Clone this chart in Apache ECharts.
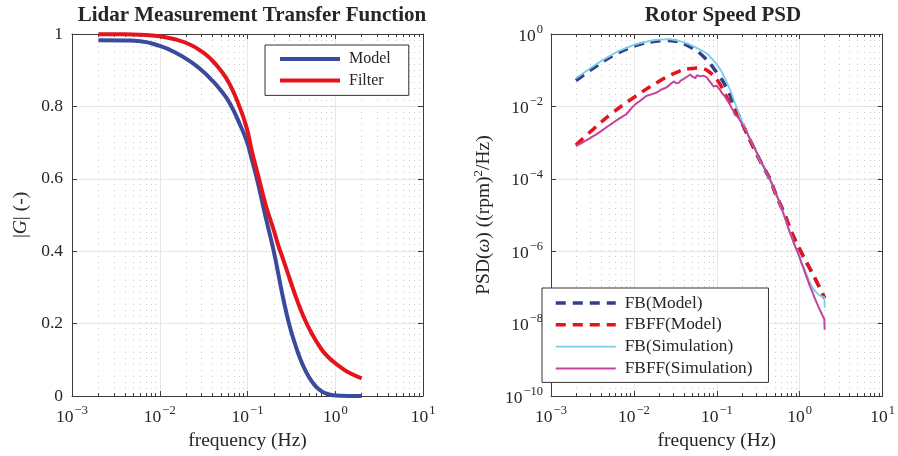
<!DOCTYPE html>
<html>
<head>
<meta charset="utf-8">
<script src="https://cdn.jsdelivr.net/npm/echarts@6/dist/echarts.min.js"></script>
<style>
  html, body { margin: 0; padding: 0; background: #ffffff; }
  #chart { width: 898px; height: 456px; }
</style>
</head>
<body>
<div id="chart"></div>
<script>
// ---------- Lidar measurement transfer function (|G| vs frequency) ----------
const lidarFreq = [0.002, 0.004, 0.006, 0.01, 0.015, 0.022, 0.03, 0.037, 0.049, 0.063, 0.082, 0.098,
  0.1125, 0.13, 0.1625, 0.197, 0.225, 0.256, 0.30, 0.347, 0.40, 0.471, 0.55, 0.64, 0.75, 0.94, 1.2, 1.5, 2.0];
const lidarModel = [0.983, 0.982, 0.980, 0.967, 0.949, 0.925, 0.900, 0.879, 0.846, 0.808, 0.750, 0.704,
  0.652, 0.593, 0.490, 0.405, 0.336, 0.268, 0.196, 0.145, 0.102, 0.064, 0.038, 0.020, 0.009, 0.002, 0.0005, 0.0002, 0.0001];
const lidarFilter = [0.999, 0.999, 0.998, 0.994, 0.985, 0.971, 0.952, 0.934, 0.901, 0.860, 0.796, 0.740,
  0.675, 0.616, 0.525, 0.462, 0.415, 0.376, 0.326, 0.281, 0.241, 0.201, 0.169, 0.143, 0.119, 0.096, 0.0765, 0.062, 0.049];

// ---------- Rotor speed PSD (values given as log10 of (rpm)^2/Hz) ----------
const fbModelFreq = [0.002, 0.0035, 0.0064, 0.012, 0.018, 0.024, 0.032, 0.046, 0.069, 0.104, 0.13, 0.155, 0.18, 0.2,
  0.25, 0.3, 0.36, 0.435, 0.52, 0.65, 0.81, 1.08, 1.49, 2.0];
const fbModelLog = [-1.29, -0.89, -0.53, -0.28, -0.20, -0.18, -0.20, -0.34, -0.62, -1.12, -1.47, -1.85, -2.2, -2.45,
  -2.92, -3.3, -3.65, -4.0, -4.45, -4.95, -5.51, -6.10, -6.70, -7.3];

const fbffModelFreq = [0.002, 0.0032, 0.0055, 0.0105, 0.020, 0.035, 0.050, 0.062, 0.079, 0.104, 0.137, 0.18, 0.2,
  0.25, 0.3, 0.36, 0.435, 0.52, 0.65, 0.81, 1.08, 1.49, 2.0];
const fbffModelLog = [-3.07, -2.64, -2.18, -1.72, -1.31, -1.03, -0.95, -0.94, -1.03, -1.31, -1.81, -2.25, -2.45,
  -2.92, -3.3, -3.65, -4.0, -4.45, -4.95, -5.51, -6.10, -6.70, -7.3];

const fbSimFreq = [0.002, 0.0024, 0.0028, 0.0033, 0.004, 0.005, 0.0064, 0.008, 0.01, 0.012, 0.015, 0.018, 0.021,
  0.024, 0.027, 0.030, 0.034, 0.04, 0.046, 0.053, 0.06, 0.069, 0.079, 0.09, 0.104, 0.115, 0.125, 0.137, 0.15,
  0.165, 0.181, 0.2, 0.22, 0.25, 0.28, 0.32, 0.36, 0.40, 0.435, 0.48, 0.52, 0.57, 0.62, 0.68, 0.74, 0.8, 0.86,
  0.92, 0.98, 1.05, 1.12, 1.2, 1.3, 1.4, 1.5, 1.6, 1.7, 1.8, 1.9, 1.98, 2.0];
const fbSimLog = [-1.22, -1.10, -0.99, -0.88, -0.75, -0.62, -0.48, -0.39, -0.30, -0.25, -0.20, -0.17, -0.155,
  -0.15, -0.14, -0.16, -0.18, -0.23, -0.28, -0.35, -0.41, -0.48, -0.57, -0.72, -0.89, -1.05, -1.22, -1.42, -1.63,
  -1.90, -2.14, -2.40, -2.60, -2.88, -3.12, -3.42, -3.66, -3.85, -4.02, -4.25, -4.45, -4.65, -4.90, -5.15, -5.40, -5.60, -5.80,
  -5.98, -6.12, -6.30, -6.45, -6.62, -6.82, -6.97, -7.07, -7.15, -7.20, -7.24, -7.27, -7.27, -7.56];

const fbffSimFreq = [0.002, 0.0023, 0.0026, 0.0029, 0.0032, 0.0036, 0.0041, 0.0047, 0.00555, 0.0065, 0.0074, 0.008,
  0.0088, 0.0096, 0.01055, 0.0115, 0.0126, 0.0139, 0.015, 0.0165, 0.0183, 0.020, 0.022, 0.0241, 0.026, 0.028,
  0.0303, 0.0325, 0.0347, 0.037, 0.0395, 0.0417, 0.045, 0.0479, 0.051, 0.055, 0.0575, 0.060, 0.063, 0.0659,
  0.069, 0.0725, 0.076, 0.079, 0.083, 0.0868, 0.091, 0.0953, 0.1, 0.104, 0.11, 0.115, 0.12, 0.125, 0.131, 0.137,
  0.143, 0.150, 0.157, 0.165, 0.173, 0.181, 0.19, 0.2, 0.21, 0.22, 0.235, 0.25, 0.265, 0.28, 0.30, 0.32, 0.34,
  0.36, 0.38, 0.40, 0.42, 0.45, 0.48, 0.51, 0.55, 0.59, 0.63, 0.68, 0.72, 0.77, 0.82, 0.87, 0.92, 0.98, 1.04,
  1.1, 1.17, 1.25, 1.33, 1.42, 1.5, 1.6, 1.7, 1.8, 1.9, 1.98, 2.0];
const fbffSimLog = [-3.10, -3.02, -2.95, -2.89, -2.83, -2.76, -2.67, -2.57, -2.46, -2.35, -2.27, -2.23,
  -2.12, -2.02, -1.93, -1.87, -1.80, -1.72, -1.69, -1.66, -1.63, -1.58, -1.52, -1.49, -1.44, -1.37,
  -1.31, -1.36, -1.35, -1.28, -1.25, -1.22, -1.16, -1.12, -1.18, -1.22, -1.14, -1.10, -1.17, -1.22,
  -1.15, -1.12, -1.20, -1.26, -1.31, -1.38, -1.45, -1.49, -1.43, -1.44, -1.55, -1.63, -1.66, -1.72, -1.80, -1.86,
  -1.93, -2.04, -2.10, -2.23, -2.25, -2.30, -2.38, -2.47, -2.56, -2.62, -2.76, -2.90, -3.00, -3.10, -3.25, -3.38, -3.50,
  -3.62, -3.72, -3.84, -3.93, -4.07, -4.22, -4.38, -4.55, -4.72, -4.93, -5.15, -5.33, -5.52, -5.68, -5.84, -5.97, -6.12, -6.30,
  -6.45, -6.62, -6.80, -6.97, -7.12, -7.27, -7.42, -7.56, -7.68, -7.80, -7.87, -8.17];

// ---------- Axis ticks ----------
const freqMajorTicks = [0.001, 0.01, 0.1, 1, 10];
const psdMajorTicks = [1e-10, 1e-8, 1e-6, 1e-4, 1e-2, 1];
const freqMinorTicks = [];
for (let k = -3; k <= 0; k++) {
  for (let m = 2; m <= 9; m++) freqMinorTicks.push(+(m * Math.pow(10, k)).toPrecision(3));
}

const FONT = 'Liberation Serif';
const TEXT = '#262626';
const AXIS = '#3c3c3c';
const GRID_MAJOR = '#e6e6e6';
const GRID_MINOR = '#c8c8c8';
const NAME_SIZE = 19.5;

const pairs = (xs, ys) => xs.map((x, i) => [x, ys[i]]);
const pairsLog = (xs, ys) => xs.map((x, i) => [x, Math.pow(10, ys[i])]);

function powLabel(v) {
  const e = Math.round(Math.log10(v));
  const s = e < 0 ? '\u2212' + (-e) : String(e);
  return '{b|10}{e|' + s + '}';
}
const powRich = {
  b: { fontFamily: FONT, fontSize: 17.5, color: TEXT, lineHeight: 22, verticalAlign: 'bottom' },
  e: { fontFamily: FONT, fontSize: 12.5, color: TEXT, lineHeight: 12, padding: [0, 0, 9, 1], verticalAlign: 'bottom' }
};

function bottomMajorX(grid) {
  return {
    type: 'log', gridIndex: grid, position: 'bottom', min: 0.001, max: 10,
    axisLine: { show: true, lineStyle: { color: AXIS, width: 1 } },
    axisTick: { show: true, inside: true, length: 5, lineStyle: { color: AXIS }, customValues: freqMajorTicks },
    axisLabel: { show: true, margin: 8, formatter: powLabel, rich: powRich, customValues: freqMajorTicks },
    splitLine: { show: true, lineStyle: { color: GRID_MAJOR, width: 1 } },
    name: 'frequency (Hz)', nameLocation: 'middle', nameGap: 34,
    nameTextStyle: { fontFamily: FONT, fontSize: NAME_SIZE, color: TEXT }
  };
}
function minorX(grid, pos, withGrid) {
  return {
    type: 'log', gridIndex: grid, position: pos, min: 0.001, max: 10,
    axisLine: { show: false },
    axisTick: { show: true, inside: true, length: 3, lineStyle: { color: AXIS }, customValues: freqMinorTicks },
    axisLabel: { show: false },
    splitLine: { show: withGrid, lineStyle: { color: GRID_MINOR, width: 1, type: [1, 5] } }
  };
}
function topMajorX(grid) {
  return {
    type: 'log', gridIndex: grid, position: 'top', min: 0.001, max: 10,
    axisLine: { show: true, lineStyle: { color: AXIS, width: 1 } },
    axisTick: { show: true, inside: true, length: 5, lineStyle: { color: AXIS }, customValues: freqMajorTicks },
    axisLabel: { show: false },
    splitLine: { show: false }
  };
}
function legendBox(names, left, top, padding, gap, size) {
  return {
    data: names, orient: 'vertical', left: left, top: top,
    padding: padding, itemWidth: 60, itemHeight: 14, itemGap: gap,
    backgroundColor: '#ffffff', borderColor: '#333333', borderWidth: 1,
    lineStyle: { width: 'inherit', type: 'inherit' },
    itemStyle: { opacity: 0 },
    textStyle: { fontFamily: FONT, fontSize: size, color: TEXT, padding: [0, 0, 0, 4] }
  };
}

const option = {
  animation: false,
  backgroundColor: '#ffffff',
  textStyle: { fontFamily: FONT, color: TEXT },
  title: [
    { text: 'Lidar Measurement Transfer Function', left: 247, top: 0, textAlign: 'center',
      textStyle: { fontFamily: FONT, fontSize: 21, fontWeight: 'bold', color: TEXT } },
    { text: 'Rotor Speed PSD', left: 718, top: 0, textAlign: 'center',
      textStyle: { fontFamily: FONT, fontSize: 21, fontWeight: 'bold', color: TEXT } }
  ],
  grid: [
    { left: 72, right: 475, top: 34, bottom: 60 },
    { left: 551, right: 12, top: 34, bottom: 60 }
  ],
  xAxis: [
    bottomMajorX(0), minorX(0, 'bottom', true), topMajorX(0), minorX(0, 'top', false),
    bottomMajorX(1), minorX(1, 'bottom', true), topMajorX(1), minorX(1, 'top', false)
  ],
  yAxis: [
    {
      type: 'value', gridIndex: 0, position: 'left', min: 0, max: 1, interval: 0.2,
      axisLine: { show: true, lineStyle: { color: AXIS, width: 1 } },
      axisTick: { show: true, inside: true, length: 5, lineStyle: { color: AXIS } },
      axisLabel: { fontFamily: FONT, fontSize: 17.5, color: TEXT, margin: 9 },
      splitLine: { show: true, lineStyle: { color: GRID_MAJOR, width: 1 } },
      name: '|{i|G}| (-)', nameLocation: 'middle', nameRotate: 90, nameGap: 41,
      nameTextStyle: { fontFamily: FONT, fontSize: NAME_SIZE, color: TEXT,
        rich: { i: { fontFamily: FONT, fontSize: NAME_SIZE, fontStyle: 'italic', color: TEXT } } }
    },
    {
      type: 'value', gridIndex: 0, position: 'right', min: 0, max: 1, interval: 0.2,
      axisLine: { show: true, lineStyle: { color: AXIS, width: 1 } },
      axisTick: { show: true, inside: true, length: 5, lineStyle: { color: AXIS } },
      axisLabel: { show: false }, splitLine: { show: false }
    },
    {
      type: 'log', gridIndex: 1, position: 'left', min: 1e-10, max: 1, splitNumber: 10,
      axisLine: { show: true, lineStyle: { color: AXIS, width: 1 } },
      axisTick: { show: true, inside: true, length: 5, lineStyle: { color: AXIS }, customValues: psdMajorTicks },
      axisLabel: { margin: 8, formatter: powLabel, rich: powRich, customValues: psdMajorTicks },
      splitLine: { show: true, lineStyle: { color: GRID_MAJOR, width: 1 } },
      name: 'PSD({i|\u03c9}) ((rpm){s|2}/Hz)', nameLocation: 'middle', nameRotate: 90, nameGap: 56,
      nameTextStyle: { fontFamily: FONT, fontSize: NAME_SIZE, color: TEXT,
        rich: {
          i: { fontFamily: FONT, fontSize: NAME_SIZE, fontStyle: 'italic', color: TEXT },
          s: { fontFamily: FONT, fontSize: 13, color: TEXT, padding: [0, 0, 10, 0], verticalAlign: 'bottom' }
        } }
    },
    {
      type: 'log', gridIndex: 1, position: 'right', min: 1e-10, max: 1, splitNumber: 10,
      axisLine: { show: true, lineStyle: { color: AXIS, width: 1 } },
      axisTick: { show: true, inside: true, length: 5, lineStyle: { color: AXIS }, customValues: psdMajorTicks },
      axisLabel: { show: false }, splitLine: { show: false }
    }
  ],
  legend: [
    legendBox(['Model', 'Filter'], 265, 45, [6, 18, 7, 13], 5.4, 16),
    legendBox(['FB(Model)', 'FBFF(Model)', 'FB(Simulation)', 'FBFF(Simulation)'], 542, 288, [6.5, 16, 5.5, 12], 4.8, 17.3)
  ],
  series: [
    { name: 'Model', type: 'line', xAxisIndex: 0, yAxisIndex: 0, data: pairs(lidarFreq, lidarModel),
      smooth: 0.5, symbol: 'none', color: '#3a4a9c', lineStyle: { width: 4, color: '#3a4a9c' } },
    { name: 'Filter', type: 'line', xAxisIndex: 0, yAxisIndex: 0, data: pairs(lidarFreq, lidarFilter),
      smooth: 0.5, symbol: 'none', color: '#e5131b', lineStyle: { width: 4, color: '#e5131b' } },
    { name: 'FB(Model)', type: 'line', xAxisIndex: 4, yAxisIndex: 2, data: pairsLog(fbModelFreq, fbModelLog),
      smooth: 0.4, symbol: 'none', color: '#2f3f8e', lineStyle: { width: 3.5, color: '#2f3f8e', type: [10, 7] } },
    { name: 'FBFF(Model)', type: 'line', xAxisIndex: 4, yAxisIndex: 2, data: pairsLog(fbffModelFreq, fbffModelLog),
      smooth: 0.4, symbol: 'none', color: '#e5131b', lineStyle: { width: 3.5, color: '#e5131b', type: [10, 7] } },
    { name: 'FB(Simulation)', type: 'line', xAxisIndex: 4, yAxisIndex: 2, data: pairsLog(fbSimFreq, fbSimLog),
      symbol: 'none', color: '#7ccde6', lineStyle: { width: 1.8, color: '#7ccde6' } },
    { name: 'FBFF(Simulation)', type: 'line', xAxisIndex: 4, yAxisIndex: 2, data: pairsLog(fbffSimFreq, fbffSimLog),
      symbol: 'none', color: '#c2449c', lineStyle: { width: 2, color: '#c2449c' } }
  ]
};

const chart = echarts.init(document.getElementById('chart'), null, { renderer: 'canvas' });
chart.setOption(option);
</script>
</body>
</html>
